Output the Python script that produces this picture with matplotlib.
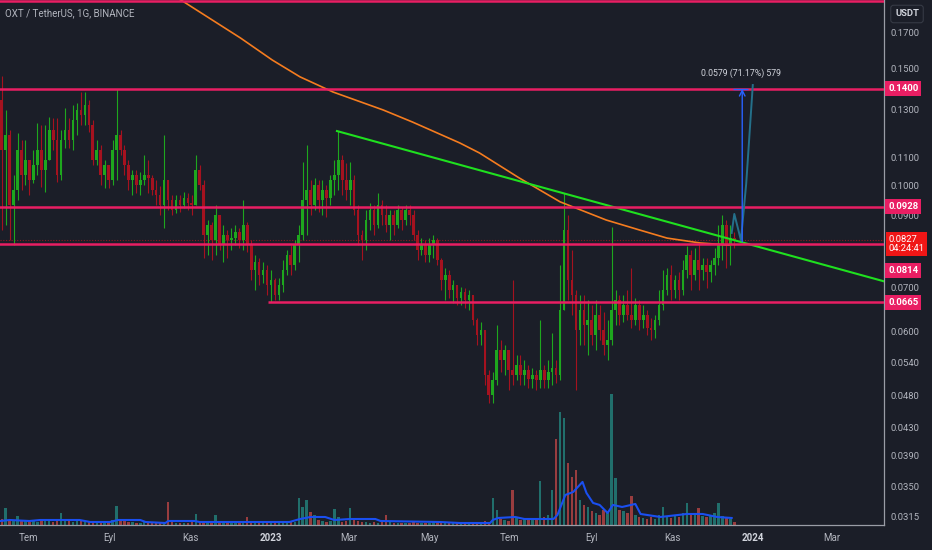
import numpy as np
import pandas as pd
import matplotlib
matplotlib.use('Agg')
import matplotlib.pyplot as plt
import matplotlib.dates as mdates
from matplotlib.ticker import FixedLocator, FixedFormatter, NullLocator, NullFormatter

plt.rcParams['font.family'] = ['Roboto', 'DejaVu Sans']

first_open = 0.1346
closes = [
    0.1131, 0.1191, 0.0934, 0.0984, 0.1131, 0.1036, 0.1092, 0.1019, 0.1073, 0.1131,
    0.1055, 0.1092, 0.1212, 0.1171, 0.1036, 0.1171, 0.1212, 0.1171, 0.1255, 0.1300,
    0.1278, 0.1323, 0.1234, 0.1092, 0.1131, 0.1036, 0.1073, 0.1019, 0.1131, 0.1191,
    0.1131, 0.1073, 0.1019, 0.1036, 0.1001, 0.1019, 0.1036, 0.1026, 0.0984, 0.0967,
    0.0934, 0.1019, 0.0950, 0.0918, 0.0950, 0.0934, 0.0957, 0.0940, 0.0934, 0.1055,
    0.1001, 0.0842, 0.0871, 0.0826, 0.0902, 0.0812, 0.0842, 0.0826, 0.0833, 0.0850,
    0.0826, 0.0871, 0.0812, 0.0744, 0.0766, 0.0731, 0.0744, 0.0706, 0.0719, 0.0683,
    0.0706, 0.0744, 0.0784, 0.0758, 0.0812, 0.0842, 0.0950, 0.0984, 0.0934, 0.1001,
    0.0950, 0.0984, 0.0957, 0.1019, 0.1036, 0.1092, 0.1019, 0.0984, 0.1019, 0.0918,
    0.0842, 0.0826, 0.0886, 0.0918, 0.0871, 0.0934, 0.0902, 0.0871, 0.0902, 0.0871,
    0.0918, 0.0886, 0.0918, 0.0902, 0.0842, 0.0798, 0.0812, 0.0784, 0.0812, 0.0826,
    0.0771, 0.0719, 0.0731, 0.0694, 0.0706, 0.0676, 0.0690, 0.0671, 0.0683, 0.0625,
    0.0594, 0.0604, 0.0516, 0.0481, 0.0507, 0.0563, 0.0544, 0.0563, 0.0525, 0.0516,
    0.0535, 0.0516, 0.0525, 0.0510, 0.0516, 0.0507, 0.0525, 0.0507, 0.0521, 0.0529,
    0.0516, 0.0648, 0.0856, 0.0719, 0.0683, 0.0604, 0.0648, 0.0615, 0.0625, 0.0594,
    0.0637, 0.0604, 0.0573, 0.0583, 0.0648, 0.0671, 0.0637, 0.0659, 0.0637, 0.0625,
    0.0659, 0.0625, 0.0637, 0.0608, 0.0604, 0.0625, 0.0659, 0.0694, 0.0731, 0.0694,
    0.0719, 0.0694, 0.0744, 0.0784, 0.0731, 0.0771, 0.0744, 0.0758, 0.0739, 0.0758,
    0.0776, 0.0812, 0.0871, 0.0812, 0.0833, 0.0827,
]
highs = [
    0.1464, 0.1300, 0.1212, 0.1036, 0.1200, 0.1171, 0.1171, 0.1092, 0.1131, 0.1242,
    0.1234, 0.1234, 0.1269, 0.1265, 0.1265, 0.1212, 0.1309, 0.1265, 0.1323, 0.1332,
    0.1384, 0.1384, 0.1346, 0.1255, 0.1171, 0.1151, 0.1092, 0.1073, 0.1171, 0.1399,
    0.1212, 0.1151, 0.1092, 0.1055, 0.1055, 0.1048, 0.1111, 0.1092, 0.1036, 0.1019,
    0.0998, 0.1191, 0.1001, 0.0967, 0.0967, 0.0967, 0.0977, 0.0974, 0.0967, 0.1111,
    0.1073, 0.1019, 0.0886, 0.0880, 0.0934, 0.0871, 0.0871, 0.0856, 0.0862, 0.0871,
    0.0862, 0.0950, 0.0880, 0.0826, 0.0784, 0.0776, 0.0766, 0.0758, 0.0744, 0.0724,
    0.0724, 0.0771, 0.0798, 0.0812, 0.0826, 0.0871, 0.1084, 0.1151, 0.1019, 0.1026,
    0.1019, 0.1019, 0.1001, 0.1036, 0.1092, 0.1208, 0.1111, 0.1080, 0.1084, 0.1036,
    0.0934, 0.0856, 0.0918, 0.0940, 0.0934, 0.0974, 0.0950, 0.0934, 0.0918, 0.0918,
    0.0934, 0.0927, 0.0934, 0.0934, 0.0918, 0.0856, 0.0833, 0.0826, 0.0833, 0.0842,
    0.0833, 0.0776, 0.0750, 0.0744, 0.0719, 0.0706, 0.0702, 0.0699, 0.0694, 0.0683,
    0.0630, 0.0621, 0.0594, 0.0525, 0.0521, 0.0615, 0.0583, 0.0573, 0.0563, 0.0719,
    0.0554, 0.0554, 0.0544, 0.0535, 0.0529, 0.0525, 0.0625, 0.0535, 0.0544, 0.0598,
    0.0544, 0.0758, 0.0974, 0.0902, 0.0798, 0.0694, 0.0683, 0.0683, 0.0671, 0.0659,
    0.0671, 0.0659, 0.0644, 0.0625, 0.0865, 0.0694, 0.0683, 0.0683, 0.0694, 0.0750,
    0.0676, 0.0671, 0.0659, 0.0648, 0.0630, 0.0637, 0.0694, 0.0744, 0.0750, 0.0758,
    0.0731, 0.0739, 0.0771, 0.0809, 0.0798, 0.0804, 0.0818, 0.0776, 0.0776, 0.0771,
    0.0804, 0.0871, 0.0902, 0.0886, 0.0871, 0.0850,
]
lows = [
    0.0856, 0.0871, 0.0826, 0.0812, 0.0950, 0.0984, 0.1001, 0.0967, 0.1008, 0.1036,
    0.0994, 0.0977, 0.1092, 0.1131, 0.1012, 0.1019, 0.1139, 0.1139, 0.1131, 0.1191,
    0.1234, 0.1234, 0.1204, 0.1073, 0.1073, 0.1001, 0.0991, 0.0991, 0.1001, 0.1019,
    0.1111, 0.1036, 0.0984, 0.0967, 0.0974, 0.0967, 0.1001, 0.0974, 0.0967, 0.0934,
    0.0902, 0.0862, 0.0918, 0.0902, 0.0908, 0.0911, 0.0924, 0.0918, 0.0902, 0.0934,
    0.0984, 0.0776, 0.0784, 0.0771, 0.0784, 0.0798, 0.0766, 0.0776, 0.0798, 0.0812,
    0.0804, 0.0798, 0.0793, 0.0719, 0.0694, 0.0706, 0.0711, 0.0683, 0.0666, 0.0671,
    0.0671, 0.0690, 0.0731, 0.0731, 0.0744, 0.0766, 0.0826, 0.0842, 0.0902, 0.0918,
    0.0911, 0.0902, 0.0896, 0.0934, 0.0967, 0.0984, 0.0967, 0.0950, 0.0934, 0.0902,
    0.0812, 0.0771, 0.0798, 0.0856, 0.0842, 0.0862, 0.0871, 0.0850, 0.0826, 0.0842,
    0.0862, 0.0856, 0.0871, 0.0871, 0.0826, 0.0771, 0.0784, 0.0766, 0.0766, 0.0776,
    0.0758, 0.0694, 0.0671, 0.0676, 0.0664, 0.0659, 0.0659, 0.0652, 0.0648, 0.0615,
    0.0573, 0.0573, 0.0498, 0.0468, 0.0469, 0.0498, 0.0521, 0.0516, 0.0490, 0.0498,
    0.0507, 0.0498, 0.0498, 0.0493, 0.0493, 0.0490, 0.0493, 0.0493, 0.0493, 0.0498,
    0.0502, 0.0507, 0.0664, 0.0671, 0.0637, 0.0490, 0.0573, 0.0573, 0.0554, 0.0573,
    0.0563, 0.0583, 0.0554, 0.0544, 0.0573, 0.0615, 0.0615, 0.0621, 0.0625, 0.0608,
    0.0615, 0.0604, 0.0608, 0.0594, 0.0583, 0.0588, 0.0615, 0.0648, 0.0683, 0.0671,
    0.0676, 0.0671, 0.0683, 0.0724, 0.0694, 0.0719, 0.0694, 0.0719, 0.0699, 0.0714,
    0.0731, 0.0758, 0.0771, 0.0750, 0.0758, 0.0804,
]
volumes = [
    6, 17, 5, 4, 9, 4, 5, 3, 4, 3, 5, 4, 5, 3, 4, 12, 4, 6, 3, 5,
    4, 3, 4, 3, 3, 2, 3, 4, 5, 19, 6, 4, 3, 3, 2, 2, 3, 2, 2, 2,
    3, 3, 23, 3, 2, 2, 2, 2, 4, 11, 3, 3, 2, 3, 10, 2, 2, 2, 2, 2,
    2, 2, 8, 2, 2, 2, 2, 2, 2, 2, 2, 3, 3, 4, 3, 27, 18, 25, 13, 10,
    5, 4, 3, 4, 16, 8, 3, 4, 17, 5, 4, 3, 3, 2, 3, 2, 3, 10, 3, 2,
    2, 2, 2, 2, 3, 2, 2, 2, 2, 3, 2, 2, 2, 2, 2, 2, 2, 2, 2, 3,
    2, 3, 4, 3, 27, 15, 6, 5, 4, 35, 8, 5, 6, 5, 6, 7, 44, 8, 10, 35,
    86, 113, 107, 62, 48, 55, 25, 20, 18, 14, 12, 10, 15, 12, 131, 47, 15, 14, 12, 29,
    10, 8, 7, 6, 8, 6, 10, 18, 8, 7, 9, 8, 12, 22, 10, 12, 17, 9, 8, 10,
    12, 22, 9, 8, 6, 3,
]

# 200-day moving average (orange)
ma_dates = ['2022-10-17', '2022-10-26', '2022-12-09', '2023-01-02', '2023-01-23',
            '2023-02-17', '2023-03-27', '2023-04-18', '2023-05-24', '2023-06-08',
            '2023-07-08', '2023-08-08', '2023-09-12', '2023-10-07', '2023-10-28',
            '2023-11-22', '2023-12-14']
ma_values = [0.1945, 0.1900, 0.1670, 0.1547, 0.1459, 0.1384, 0.1300, 0.1247, 0.1159,
             0.1119, 0.1026, 0.0944, 0.0886, 0.0856, 0.0832, 0.0818, 0.0812]

# volume moving average (blue)
vol_ma_dates = ['2022-06-10', '2022-06-17', '2022-07-02', '2022-07-10', '2022-08-09',
                '2022-08-17', '2022-09-01', '2022-09-07', '2022-09-24', '2022-09-28',
                '2022-10-13', '2022-10-15', '2022-11-04', '2022-11-08', '2023-01-15',
                '2023-01-23', '2023-01-31', '2023-02-11', '2023-02-18', '2023-03-02',
                '2023-03-21', '2023-03-25', '2023-05-09', '2023-05-24', '2023-06-16',
                '2023-06-18', '2023-06-22', '2023-07-05', '2023-07-12', '2023-08-03',
                '2023-08-06', '2023-08-12', '2023-08-18', '2023-08-25', '2023-08-28',
                '2023-09-02', '2023-09-07', '2023-09-13', '2023-09-17', '2023-09-24',
                '2023-10-04', '2023-10-08', '2023-10-23', '2023-11-12', '2023-11-24',
                '2023-12-05', '2023-12-16']
vol_ma_values = [4, 5, 4, 5, 5, 3, 3, 5, 5, 3, 2, 4, 4, 3, 3, 6, 8, 8, 5, 6, 6, 4, 3, 2,
                 2, 5, 7, 8, 6, 6, 10, 30, 33, 43, 32, 22, 20, 12, 20, 18, 21, 11, 8,
                 11, 11, 8, 7]

levels = [0.1898, 0.1400, 0.0928, 0.0814]
support = 0.0665
support_start = '2022-12-30'
last_price = 0.0827

trend_dates = ['2023-02-20', '2024-04-09']
trend_prices = [0.1208, 0.0716]

proj_dates = ['2023-12-16', '2023-12-18', '2023-12-23', '2023-12-27', '2024-01-01']
proj_prices = [0.0847, 0.0905, 0.0826, 0.1005, 0.1418]
measure_date = '2023-12-24'
measure_from, measure_to = 0.0821, 0.1399
measure_cap = ['2023-12-17', '2023-12-28']
measure_text = '0.0579 (71.17%) 579'

price_ticks = [0.0315, 0.0350, 0.0390, 0.0430, 0.0480, 0.0540, 0.0600, 0.0700,
               0.0900, 0.1000, 0.1100, 0.1300, 0.1500, 0.1700]
month_ticks = ['2022-07-01', '2022-09-01', '2022-11-01', '2023-01-01', '2023-03-01',
               '2023-05-01', '2023-07-01', '2023-09-01', '2023-11-01', '2024-01-01',
               '2024-03-01']
month_labels = ['Tem', 'Eyl', 'Kas', '2023', 'Mar', 'May', 'Tem', 'Eyl', 'Kas', '2024', 'Mar']

BG = '#1b1e28'
TXT = '#b2b5be'
PINK = '#e91e63'
UP, DOWN = '#1ea71e', '#a5121f'

def dn(s):
    return mdates.date2num(pd.to_datetime(s))

dates = mdates.date2num(pd.date_range('2022-06-11', periods=len(closes), freq='3D'))
c = np.array(closes)
o = np.concatenate([[first_open], c[:-1]])
h = np.maximum(np.array(highs), np.maximum(o, c))
l = np.minimum(np.array(lows), np.minimum(o, c))
up = c >= o

fig = plt.figure(figsize=(9.32, 5.5), dpi=100, facecolor=BG)
rect = [0, 25 / 550, 884 / 932, 525 / 550]
vax = fig.add_axes(rect, facecolor=BG)
ax = fig.add_axes(rect, sharex=vax)
ax.set_facecolor('none')

# volume
vcol = np.where(up, '#26a69a', '#ef5350')
vax.bar(dates, volumes, width=1.8, color=vcol, alpha=0.6, linewidth=0)
vax.plot(pd.to_datetime(vol_ma_dates), vol_ma_values, color='#1a4ff0', lw=1.5)
vax.set_ylim(0, max(volumes) * 4.0)
vax.axis('off')

# candles
ccol = np.where(up, UP, DOWN)
ax.vlines(dates, l, h, colors=ccol, lw=0.8, zorder=3)
ax.bar(dates, np.maximum(np.abs(c - o), 0.0004), bottom=np.minimum(o, c),
       width=2.0, color=ccol, linewidth=0, zorder=3)

# moving average + trendline
ax.plot(pd.to_datetime(ma_dates), ma_values, color='#f57c1f', lw=1.2, zorder=4)
ax.plot(pd.to_datetime(trend_dates), trend_prices, color='#1fe01f', lw=1.5, zorder=5)

# levels
x_left = dn('2023-01-01') - 205.3
x_right = dn('2023-01-01') + 464.4
for lv in levels:
    ax.axhline(lv, color=PINK, lw=1.8, zorder=6)
ax.hlines(support, dn(support_start), x_right, color=PINK, lw=1.8, zorder=6)
ax.axhline(last_price, color='#8e1a22', lw=0.8, ls=(0, (1, 1.5)), zorder=2)

# projection and measure tool
ax.plot(pd.to_datetime(proj_dates), proj_prices, color='#24708a', lw=1.4, zorder=6)
ax.annotate('', xy=(dn(measure_date), measure_to), xytext=(dn(measure_date), measure_from),
            arrowprops=dict(arrowstyle='->', color='#2962ff', lw=1.0, shrinkA=0, shrinkB=0),
            zorder=7)
ax.hlines(measure_to, dn(measure_cap[0]), dn(measure_cap[1]), color='#2962ff', lw=1.0, zorder=7)
ax.text(dn(measure_date) - 1, 0.1479, measure_text, color='#d1d4dc', fontsize=6.3,
        ha='center', va='center', zorder=7)

# axes
ax.set_yscale('log')
ax.set_ylim(0.03062, 0.1907)
ax.set_xlim(x_left, x_right)
ax.yaxis.tick_right()
ax.yaxis.set_major_locator(FixedLocator(price_ticks))
ax.yaxis.set_major_formatter(FixedFormatter([f'{t:.4f}' for t in price_ticks]))
ax.yaxis.set_minor_locator(NullLocator())
ax.yaxis.set_minor_formatter(NullFormatter())
ax.tick_params(axis='y', length=0, pad=5, labelsize=6.8, labelcolor=TXT)
ax.set_xticks([dn(m) for m in month_ticks])
ax.set_xticklabels(month_labels)
ax.tick_params(axis='x', length=0, pad=6, labelsize=7, labelcolor=TXT)
for lab in ax.get_xticklabels():
    if lab.get_text().isdigit():
        lab.set_color('#d1d4dc')
        lab.set_fontweight('bold')
for s in ['top', 'left']:
    ax.spines[s].set_visible(False)
for s in ['bottom', 'right']:
    ax.spines[s].set_color('#9a9da6')
    ax.spines[s].set_linewidth(0.9)

# price labels on the scale
ytr = ax.get_yaxis_transform()
def tag(txt, price, fc, dy=0):
    ax.annotate(txt, xy=(1, price), xycoords=ytr, xytext=(3, dy), textcoords='offset points',
                ha='left', va='center', color='white', fontsize=6.8, fontweight='bold',
                annotation_clip=False, zorder=8,
                bbox=dict(boxstyle='square,pad=0.3', fc=fc, ec='none'))

tag('0.1400', 0.1400, PINK)
tag('0.0928', 0.0928, PINK)
tag('0.0814', 0.0814, PINK, dy=-19)
tag('0.0665', 0.0665, PINK)
ax.annotate('0.0827\n04:24:41', xy=(1, last_price), xycoords=ytr, xytext=(3, -3),
            textcoords='offset points', ha='left', va='center', color='white',
            fontsize=6.8, linespacing=1.1, annotation_clip=False, zorder=8,
            bbox=dict(boxstyle='square,pad=0.25', fc='#f01616', ec='none'))

fig.text(5 / 932, 1 - 13 / 550, 'OXT / TetherUS, 1G, BINANCE', color=TXT, fontsize=7,
         va='center', ha='left')
fig.text(907 / 932, 1 - 14 / 550, 'USDT', color='#d1d4dc', fontsize=6.8, fontweight='bold',
         ha='center', va='center',
         bbox=dict(boxstyle='round,pad=0.45,rounding_size=0.3', fc=BG, ec='#363a45', lw=0.8))

fig.savefig('out.png', dpi=100, facecolor=BG)
